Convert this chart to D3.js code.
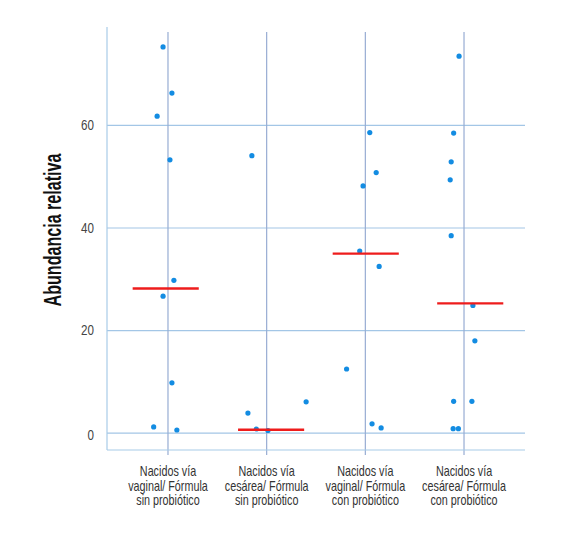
<!DOCTYPE html>
<html>
<head>
<meta charset="utf-8">
<script src="https://cdn.jsdelivr.net/npm/d3@7"></script>
<style>
  body { margin: 0; background: #fff; }
  text { font-family: "Liberation Sans", Arial, sans-serif; }
</style>
</head>
<body>
<svg id="chart" width="580" height="541"></svg>
<script>
// groups on the x axis
var groups = ['g1', 'g2', 'g3', 'g4'];
var groupLabels = [
    ['Nacidos vía', 'vaginal/ Fórmula', 'sin probiótico'],
    ['Nacidos vía', 'cesárea/ Fórmula', 'sin probiótico'],
    ['Nacidos vía', 'vaginal/ Fórmula', 'con probiótico'],
    ['Nacidos vía', 'cesárea/ Fórmula', 'con probiótico']
];

// relative abundance per sample, with horizontal jitter (fraction of a group step)
var values1 = [75.3, 66.3, 61.8, 53.3, 29.8, 26.7, 9.8, 1.2, 0.6];
var jitter1 = [-0.05, 0.04, -0.11, 0.02, 0.06, -0.05, 0.04, -0.145, 0.09];
var values2 = [54.1, 3.9, 0.8, 0.5, 6.1];
var jitter2 = [-0.15, -0.19, -0.105, 0.013, 0.40];
var values3 = [58.6, 50.8, 48.2, 35.5, 32.5, 12.5, 1.8, 1.0];
var jitter3 = [0.045, 0.11, -0.023, -0.057, 0.14, -0.19, 0.068, 0.16];
var values4 = [73.5, 58.5, 52.9, 49.4, 38.5, 24.9, 18.0, 6.2, 6.2, 0.85, 0.85];
var jitter4 = [-0.05, -0.105, -0.13, -0.14, -0.13, 0.09, 0.11, -0.105, 0.08, -0.11, -0.057];

// median lines
var medians = [28.2, 0.65, 35.0, 25.3];
var medianShift = [-0.023, 0.045, 0.004, 0.063];

var yTicks = [0, 20, 40, 60];

var allValues = [values1, values2, values3, values4];
var allJitter = [jitter1, jitter2, jitter3, jitter4];

var svg = d3.select('#chart');
var plotLeft = 107, plotRight = 525, plotTop = 28, plotBottom = 450;

var x = d3.scalePoint().domain(groups).range([plotLeft, plotRight]).padding(0.618);
var y = d3.scaleLinear().domain([-3.3, 79]).range([plotBottom, plotTop]);
var step = x.step();

// horizontal gridlines
svg.append('g')
    .selectAll('line')
    .data(yTicks)
    .enter()
    .append('line')
    .attr('x1', plotLeft)
    .attr('x2', plotRight)
    .attr('y1', d => y(d))
    .attr('y2', d => y(d))
    .attr('stroke', '#a3c6e6')
    .attr('stroke-width', 1.2);

// vertical lines through each group
svg.append('g')
    .selectAll('line')
    .data(groups)
    .enter()
    .append('line')
    .attr('x1', d => x(d))
    .attr('x2', d => x(d))
    .attr('y1', 32)
    .attr('y2', plotBottom + 5)
    .attr('stroke', '#97acd3')
    .attr('stroke-width', 1.2);

// axis lines
svg.append('line')
    .attr('x1', plotLeft).attr('x2', plotLeft)
    .attr('y1', 27).attr('y2', plotBottom)
    .attr('stroke', '#a8cbe8').attr('stroke-width', 1.2);
svg.append('line')
    .attr('x1', plotLeft).attr('x2', plotRight)
    .attr('y1', plotBottom).attr('y2', plotBottom)
    .attr('stroke', '#a8cbe8').attr('stroke-width', 1.2);

// y tick labels (squeezed to look like a condensed face)
svg.append('g')
    .selectAll('text')
    .data(yTicks)
    .enter()
    .append('text')
    .attr('transform', d => 'translate(94,' + (y(d) + (d === 0 ? 2 : 0)) + ') scale(0.83,1)')
    .attr('dy', '0.35em')
    .attr('text-anchor', 'end')
    .attr('font-size', 14)
    .attr('fill', '#444')
    .text(d => d);

// axis title
svg.append('text')
    .attr('transform', 'translate(61,230) rotate(-90)')
    .attr('text-anchor', 'middle')
    .attr('font-size', 23)
    .attr('font-weight', 'bold')
    .attr('fill', '#111')
    .attr('textLength', 153)
    .attr('lengthAdjust', 'spacingAndGlyphs')
    .text('Abundancia relativa');

// category labels
groups.forEach(function (g, i) {
    var t = svg.append('text')
        .attr('transform', 'translate(' + x(g) + ',0) scale(0.77,1)')
        .attr('text-anchor', 'middle')
        .attr('font-size', 14)
        .attr('fill', '#333');
    groupLabels[i].forEach(function (line, j) {
        t.append('tspan')
            .attr('x', 0)
            .attr('y', 476.5 + j * 14.2)
            .text(line);
    });
});

// points
groups.forEach(function (g, i) {
    svg.append('g')
        .selectAll('circle')
        .data(allValues[i])
        .enter()
        .append('circle')
        .attr('cx', (d, k) => x(g) + allJitter[i][k] * step)
        .attr('cy', d => y(d))
        .attr('r', 2.6)
        .attr('fill', '#138ce2');
});

// medians
svg.append('g')
    .selectAll('line')
    .data(medians)
    .enter()
    .append('line')
    .attr('x1', (d, i) => x(groups[i]) + (medianShift[i] - 0.335) * step)
    .attr('x2', (d, i) => x(groups[i]) + (medianShift[i] + 0.335) * step)
    .attr('y1', d => y(d))
    .attr('y2', d => y(d))
    .attr('stroke', '#ee1c1c')
    .attr('stroke-width', 2.4);
</script>
</body>
</html>
